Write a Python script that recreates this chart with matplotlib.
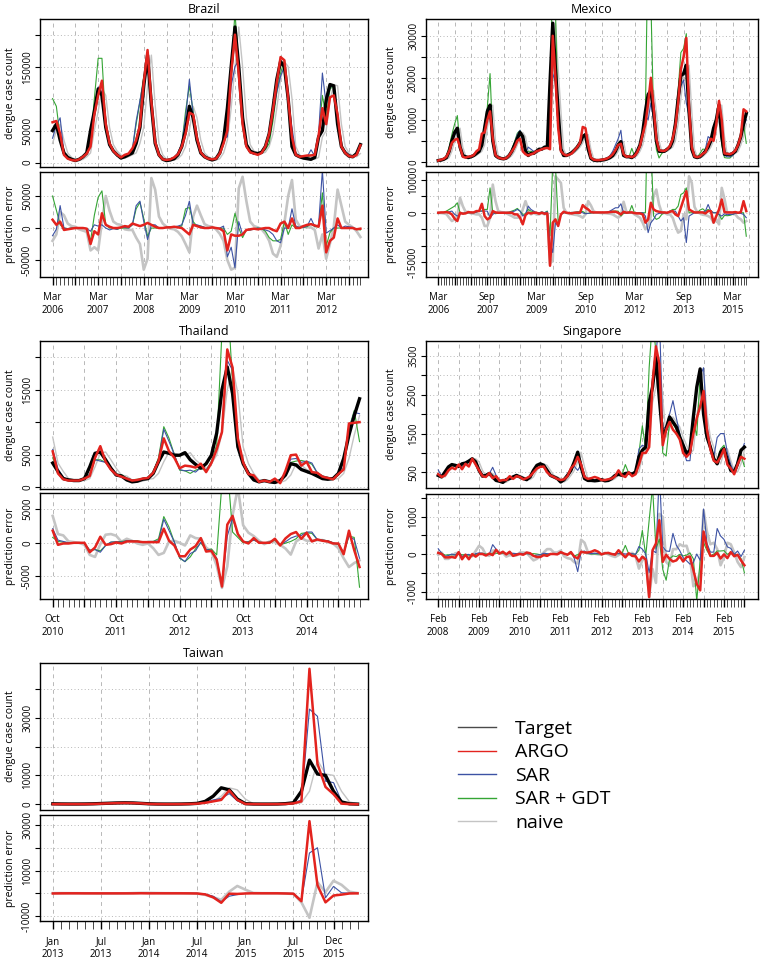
import matplotlib.pyplot as plt
import numpy as np

plt.rcParams['font.family'] = ['Open Sans', 'DejaVu Sans']

W, H = 761, 959

MONTHS = ['Jan', 'Feb', 'Mar', 'Apr', 'May', 'Jun', 'Jul', 'Aug', 'Sep', 'Oct', 'Nov', 'Dec']

# ---------------- Brazil, monthly from Mar 2006
brazil_start = 'Mar 2006'
brazil_target = [50000, 60000, 35000, 15000, 8000, 5000, 3000, 5000, 9000, 15000,
                 50000, 80000, 115000, 105000, 55000, 28000, 18000, 12000, 7000, 9000, 12000, 15000,
                 30000, 55000, 120000, 168000, 90000, 30000, 12000, 5000, 3000, 4000, 6000, 12000,
                 25000, 50000, 88000, 70000, 35000, 15000, 9000, 6000, 4000, 6000, 15000, 35000,
                 85000, 150000, 212000, 150000, 70000, 28000, 18000, 15000, 14000, 16000, 25000, 45000,
                 85000, 130000, 158000, 150000, 100000, 25000, 12000, 9000, 7000, 6000, 5000, 8000,
                 40000, 50000, 98000, 122000, 120000, 60000, 25000, 15000, 10000, 9000, 14000, 28000]
brazil_argo = [63000, 65000, 45000, 12000, 6000, 4000, 3000, 5000, 9000, 14000,
               25000, 75000, 105000, 128000, 60000, 30000, 18000, 12000, 8000, 12000, 14000, 22000,
               35000, 58000, 125000, 176000, 95000, 32000, 12000, 5000, 4000, 5000, 8000, 13000,
               25000, 45000, 78000, 75000, 38000, 16000, 9000, 6000, 5000, 6000, 14000, 30000,
               50000, 140000, 200000, 138000, 60000, 25000, 16000, 14000, 12000, 15000, 25000, 45000,
               82000, 125000, 165000, 160000, 100000, 40000, 12000, 9000, 10000, 11000, 11000, 12000,
               42000, 85000, 60000, 102000, 105000, 75000, 25000, 15000, 10000, 9000, 12000, 27000]
brazil_sar = [38000, 58000, 70000, 15000, 7000, 5000, 3000, 5000, 9000, 14000,
              45000, 85000, 118000, 110000, 55000, 25000, 17000, 10000, 8000, 10000, 12000, 20000,
              65000, 97000, 130000, 150000, 95000, 35000, 12000, 5000, 4000, 6000, 8000, 15000,
              30000, 70000, 130000, 75000, 40000, 18000, 10000, 6000, 5000, 6000, 15000, 38000,
              40000, 120000, 150000, 160000, 60000, 25000, 15000, 13000, 14000, 15000, 22000, 40000,
              75000, 110000, 135000, 150000, 100000, 55000, 15000, 10000, 8000, 9000, 20000, 10000,
              45000, 140000, 90000, 118000, 120000, 65000, 25000, 18000, 12000, 10000, 12000, 26000]
brazil_gdt = [100000, 88000, 40000, 15000, 7000, 5000, 3000, 5000, 9000, 14000,
              30000, 100000, 163000, 163000, 60000, 28000, 18000, 10000, 7000, 9000, 12000, 20000,
              60000, 95000, 135000, 155000, 90000, 30000, 12000, 5000, 4000, 6000, 8000, 14000,
              28000, 80000, 120000, 80000, 38000, 18000, 10000, 6000, 5000, 6000, 14000, 35000,
              75000, 145000, 235000, 150000, 55000, 25000, 15000, 14000, 14000, 15000, 20000, 30000,
              65000, 110000, 140000, 160000, 90000, 30000, 12000, 9000, 8000, 8000, 12000, 10000,
              42000, 105000, 70000, 115000, 120000, 60000, 25000, 15000, 10000, 9000, 12000, 25000]
brazil_naive_first = 30000
brazil_xlabels = ['Mar 2006', 'Mar 2007', 'Mar 2008', 'Mar 2009', 'Mar 2010', 'Mar 2011', 'Mar 2012']
brazil_top_ticks = [0, 50000, 100000, 150000, 200000]
brazil_top_labels = ['0', '50000', '', '150000', '']
brazil_err_ticks = [-50000, 0, 50000]
brazil_err_labels = ['-50000', '0', '50000']

# ---------------- Mexico, monthly from Mar 2006
mexico_start = 'Mar 2006'
mexico_target = [300, 400, 600, 1000, 2500, 5000, 7000, 8000, 3500, 1500,
                 1200, 1000, 1200, 1500, 2000, 2500, 4000, 8000, 12000, 13500, 5000, 1500,
                 1000, 800, 700, 900, 1500, 2500, 4000, 5500, 7000, 6000, 2500, 1500,
                 2000, 2000, 2500, 3000, 3000, 3500, 3500, 19000, 33000, 22000, 12000, 3000,
                 1500, 1500, 1800, 2200, 2800, 3500, 4500, 6000, 6500, 3000, 800, 400,
                 300, 300, 400, 500, 700, 1000, 1500, 2500, 4000, 4800, 1500, 1200,
                 1200, 1000, 1500, 2500, 4000, 7000, 12000, 16000, 17000, 12000, 5000, 2500,
                 2500, 2500, 3000, 3500, 5000, 9000, 15000, 20500, 21000, 23000, 12000, 3000,
                 1200, 1000, 1200, 1800, 2500, 3500, 5000, 8000, 10000, 13500, 6000, 1800,
                 1800, 1700, 2000, 2500, 4000, 6000, 9000, 11500]
mexico_argo = [300, 500, 700, 1200, 2500, 4500, 5200, 5500, 3500, 1200,
               1000, 1200, 1300, 1600, 2500, 3000, 6700, 7000, 10000, 12000, 5500, 1600,
               1000, 800, 700, 900, 1500, 2500, 3500, 5000, 5500, 2500, 1800, 1500,
               1800, 2000, 2500, 2700, 3000, 3200, 3300, 3000, 30000, 20000, 8000, 2500,
               1800, 1500, 1700, 2000, 2800, 3500, 4500, 8300, 8000, 4000, 1000, 500,
               400, 400, 500, 600, 800, 1200, 1800, 2800, 4000, 4300, 1800, 1200,
               1300, 1100, 1400, 2300, 3800, 6500, 9000, 14000, 20000, 13000, 5500, 2800,
               2600, 2600, 3000, 3800, 5500, 8500, 14000, 22000, 25000, 29500, 13000, 3500,
               1300, 1100, 1300, 1900, 2300, 4000, 5500, 5000, 9000, 14500, 10000, 2000,
               1900, 1800, 2100, 2700, 4000, 6200, 12500, 12000]
mexico_sar = [300, 450, 650, 1100, 2800, 5500, 6500, 7000, 3000, 1400,
              1100, 1000, 1200, 1500, 2200, 3000, 4500, 8500, 12500, 12000, 4500, 1500,
              1000, 900, 800, 1000, 1600, 2800, 4500, 6500, 7500, 5000, 2000, 3500,
              3000, 2500, 2500, 3000, 3200, 3500, 3800, 10000, 21000, 19000, 8000, 2500,
              1500, 1500, 1800, 2300, 2900, 3700, 4600, 6000, 6200, 2800, 800, 400,
              350, 350, 450, 550, 900, 1500, 2500, 4000, 5500, 7500, 1500, 1100,
              1200, 1000, 1500, 2500, 4000, 7000, 11000, 10000, 14000, 10000, 4500, 2300,
              2400, 2500, 3000, 4000, 5500, 9500, 14000, 18000, 19500, 14000, 11000, 2500,
              1200, 1000, 1300, 1900, 3000, 6000, 5500, 8000, 10000, 13000, 5000, 1500,
              1200, 1200, 1500, 2300, 3800, 5800, 8500, 10000]
mexico_gdt = [300, 450, 700, 1500, 3500, 6500, 9000, 11000, 3500, 1300,
              1100, 1000, 1200, 1500, 2200, 3000, 4500, 9000, 13000, 21000, 5000, 1200,
              900, 800, 700, 1000, 1700, 3000, 4800, 6800, 7500, 5500, 2200, 2500,
              2500, 2300, 2500, 3000, 3200, 3500, 4000, 12000, 48000, 36000, 9000, 2500,
              1500, 1500, 1800, 2300, 2900, 3800, 4800, 6400, 6300, 2800, 700, 400,
              350, 350, 450, 550, 900, 1400, 2000, 3000, 4500, 3800, 1300, 1200,
              1200, 3200, 1400, 2400, 4000, 7000, 12000, 55000, 38000, 11000, 3000, 900,
              2000, 2400, 3000, 4000, 6000, 10000, 17000, 26000, 27000, 30500, 12000, 3000,
              1200, 1000, 2000, 3000, 3000, 4500, 5500, 8000, 10000, 13000, 4000, 1000,
              900, 900, 1500, 2500, 4000, 6000, 9000, 4400]
mexico_naive_first = 250
mexico_xlabels = ['Mar 2006', 'Sep 2007', 'Mar 2009', 'Sep 2010', 'Mar 2012', 'Sep 2013', 'Mar 2015']
mexico_top_ticks = [0, 5000, 10000, 15000, 20000, 25000, 30000]
mexico_top_labels = ['0', '', '10000', '', '20000', '', '30000']
mexico_err_ticks = [-15000, -10000, -5000, 0, 5000, 10000]
mexico_err_labels = ['-15000', '', '', '0', '', '10000']

# ---------------- Thailand, monthly from Oct 2010
thailand_start = 'Oct 2010'
thailand_target = [3700, 2400, 1300, 1100, 1000, 1000, 1300, 3100, 5200, 5400, 4200, 2900,
                   1850, 1700, 1100, 800, 900, 1200, 1300, 2100, 3900, 5400, 5200, 4900,
                   4900, 5300, 4200, 3500, 2900, 3600, 4900, 8300, 15000, 18500, 14400, 6200,
                   3600, 2100, 1100, 800, 1000, 800, 700, 1000, 1850, 3600, 3400, 2700,
                   2400, 2100, 1700, 1300, 1200, 1300, 2100, 4400, 8000, 11000, 13600]
thailand_argo = [5500, 2100, 1200, 1000, 1000, 1000, 1300, 1700, 4500, 6300, 3900, 2700,
                 1900, 1600, 1300, 1000, 1100, 1300, 1400, 2200, 4000, 7500, 5500, 4500,
                 2900, 3300, 3200, 3000, 3600, 2300, 3700, 5800, 8500, 21200, 18400, 7500,
                 3800, 2000, 1800, 800, 1000, 800, 1300, 600, 2500, 4900, 5000, 3300,
                 3900, 2300, 2200, 1600, 1400, 1200, 2000, 2700, 9800, 9900, 10000]
thailand_sar = [5800, 2800, 1500, 1100, 1000, 1000, 1200, 2000, 4200, 4000, 3800, 3000,
                2000, 1800, 1400, 1100, 1100, 1300, 1500, 2300, 4200, 8900, 7000, 5000,
                2700, 2500, 2600, 2300, 3000, 2600, 3800, 6000, 8500, 19500, 18000, 7500,
                3800, 2200, 1500, 900, 1000, 900, 1200, 700, 2000, 4300, 4400, 3800,
                4000, 3700, 2200, 1700, 1500, 1300, 1900, 3000, 9000, 11500, 11300]
thailand_gdt = [4500, 2600, 1400, 1100, 1000, 1000, 1200, 2000, 4200, 4200, 3800, 3000,
                2000, 1900, 1400, 1100, 1200, 1300, 1500, 2300, 4500, 9300, 7500, 5000,
                2600, 2500, 2100, 2600, 2900, 2500, 4000, 6500, 24000, 30000, 16000, 7000,
                3600, 2300, 1500, 900, 1000, 900, 1100, 700, 1800, 3800, 4000, 4100,
                3900, 3500, 2200, 1700, 1500, 1300, 1800, 2800, 9000, 11800, 7000]
thailand_naive_first = 7700
thailand_xlabels = ['Oct 2010', 'Oct 2011', 'Oct 2012', 'Oct 2013', 'Oct 2014']
thailand_top_ticks = [0, 5000, 10000, 15000, 20000]
thailand_top_labels = ['0', '5000', '', '15000', '']
thailand_err_ticks = [-5000, 0, 5000]
thailand_err_labels = ['-5000', '0', '5000']

# ---------------- Singapore, monthly from Feb 2008
singapore_start = 'Feb 2008'
singapore_target = [420, 380, 510, 640, 700, 680, 650, 720, 740, 790, 850, 770,
                    550, 400, 420, 470, 380, 290, 270, 240, 310, 340, 380, 420,
                    380, 340, 310, 380, 550, 680, 720, 680, 550, 420, 380, 340,
                    250, 310, 420, 550, 770, 1020, 640, 340, 290, 290, 280, 290,
                    310, 280, 290, 340, 420, 450, 420, 470, 480, 450, 510, 900,
                    1070, 1150, 2300, 2700, 3470, 2400, 1410, 1620, 1930, 1800, 1670, 1410,
                    1200, 980, 1070, 1930, 2700, 3170, 2000, 1410, 1150, 850, 720, 1020,
                    1110, 810, 550, 510, 720, 1070, 1150]
singapore_argo = [450, 380, 420, 550, 620, 580, 700, 580, 720, 650, 850, 700,
                  550, 400, 380, 480, 350, 400, 280, 300, 300, 400, 330, 400,
                  380, 320, 350, 400, 500, 600, 640, 650, 500, 420, 380, 330,
                  300, 320, 400, 600, 700, 900, 700, 380, 330, 350, 380, 350,
                  300, 300, 320, 340, 400, 550, 420, 380, 500, 400, 450, 700,
                  1000, 1000, 1150, 2800, 3750, 3300, 1200, 1600, 1800, 1600, 1500, 1350,
                  1000, 900, 1000, 1500, 1900, 2200, 2600, 1600, 1100, 800, 750, 900,
                  1100, 700, 600, 450, 700, 900, 850]
singapore_sar = [560, 400, 450, 600, 700, 650, 700, 650, 720, 780, 800, 780,
                 580, 420, 400, 460, 630, 420, 300, 280, 320, 360, 400, 430,
                 400, 350, 320, 380, 500, 650, 700, 700, 560, 420, 380, 350,
                 280, 320, 400, 620, 650, 550, 700, 420, 300, 300, 300, 300,
                 320, 300, 300, 350, 430, 460, 430, 470, 490, 460, 500, 1100,
                 1200, 1150, 1800, 2800, 3500, 4600, 1600, 1700, 2000, 2350, 1900, 1500,
                 1100, 800, 800, 1700, 2700, 3000, 3200, 1700, 1200, 900, 1400, 1500,
                 1500, 1000, 700, 500, 800, 1000, 1250]
singapore_gdt = [450, 400, 480, 620, 680, 660, 650, 700, 720, 760, 800, 760,
                 560, 420, 420, 460, 400, 310, 280, 260, 320, 350, 390, 420,
                 390, 350, 320, 380, 560, 680, 700, 660, 540, 420, 380, 350,
                 280, 320, 410, 560, 720, 1000, 680, 380, 300, 290, 280, 290,
                 310, 290, 300, 340, 430, 460, 430, 700, 480, 450, 500, 1000,
                 1700, 1100, 3200, 4500, 3600, 2800, 1000, 920, 1800, 1750, 1600, 1400,
                 1150, 950, 1100, 1800, 1450, 3000, 2300, 1500, 1100, 850, 800, 1100,
                 1200, 800, 600, 500, 700, 950, 650]
singapore_naive_first = 400
singapore_xlabels = ['Feb 2008', 'Feb 2009', 'Feb 2010', 'Feb 2011', 'Feb 2012', 'Feb 2013',
                     'Feb 2014', 'Feb 2015']
singapore_top_ticks = [500, 1000, 1500, 2000, 2500, 3000, 3500]
singapore_top_labels = ['500', '', '1500', '', '2500', '', '3500']
singapore_err_ticks = [-1000, -500, 0, 500, 1000, 1500]
singapore_err_labels = ['-1000', '', '0', '', '1000', '']

# ---------------- Taiwan, monthly from Jan 2013 (no SAR + GDT series)
taiwan_start = 'Jan 2013'
taiwan_target = [150, 100, 80, 80, 100, 150, 250, 350, 450, 500, 450, 300,
                 150, 80, 60, 60, 80, 150, 300, 1000, 2800, 5700, 5000, 1800,
                 200, 80, 60, 60, 80, 200, 500, 4500, 15300, 10500, 10000, 4500,
                 800, 150, 50]
taiwan_argo = [50, 50, 50, 50, 50, 100, 200, 300, 400, 450, 400, 300,
               100, 50, 30, 30, 50, 100, 200, 500, 1000, 1500, 4800, 1500,
               100, 50, 30, 30, 50, 100, 300, 1000, 47000, 14000, 6000, 3500,
               200, 50, 0]
taiwan_sar = [100, 80, 60, 60, 80, 120, 200, 300, 400, 450, 420, 300,
              120, 60, 50, 50, 60, 120, 250, 600, 1500, 2000, 3700, 1200,
              150, 60, 50, 50, 60, 150, 400, 1500, 33000, 30500, 8000, 7500,
              1000, 200, 50]
taiwan_naive_first = 200
taiwan_xlabels = ['Jan 2013', 'Jul 2013', 'Jan 2014', 'Jul 2014', 'Jan 2015', 'Jul 2015', 'Dec 2015']
taiwan_top_ticks = [0, 10000, 20000, 30000, 40000]
taiwan_top_labels = ['0', '10000', '', '30000', '']
taiwan_err_ticks = [-10000, 0, 10000, 20000, 30000]
taiwan_err_labels = ['-10000', '', '10000', '', '30000']

legend_names = ['Target', 'ARGO', 'SAR', 'SAR + GDT', 'naive']

RED = '#e3231e'
BLUE = '#3c52a4'
GREEN = '#34a534'
GRAY = '#c4c4c4'
GRID = '#b8b8b8'


def month_num(label):
    m, y = label.split()
    return int(y) * 12 + MONTHS.index(m)


def rect(x0, y0, x1, y1):
    return [x0 / W, 1 - y1 / H, (x1 - x0) / W, (y1 - y0) / H]


# box: left, top-panel top, right, top-panel bottom, error top, error bottom (pixels)
panels = [
    dict(name='Brazil', start=brazil_start, target=brazil_target, argo=brazil_argo,
         sar=brazil_sar, gdt=brazil_gdt, naive0=brazil_naive_first, xlabels=brazil_xlabels,
         grid_every=6, box=(40, 19, 368, 167, 172, 277), pad=(3.3, 2.0),
         ytop=(-7000, 224500), ttop=brazil_top_ticks, ltop=brazil_top_labels,
         yerr=(-76500, 87500), terr=brazil_err_ticks, lerr=brazil_err_labels, ylab_x=-0.09),
    dict(name='Mexico', start=mexico_start, target=mexico_target, argo=mexico_argo,
         sar=mexico_sar, gdt=mexico_gdt, naive0=mexico_naive_first, xlabels=mexico_xlabels,
         grid_every=6, box=(426, 19, 758, 166, 172, 277), pad=(4.5, 4.3),
         ytop=(-1000, 34000), ttop=mexico_top_ticks, ltop=mexico_top_labels,
         yerr=(-19400, 12300), terr=mexico_err_ticks, lerr=mexico_err_labels, ylab_x=-0.103),
    dict(name='Thailand', start=thailand_start, target=thailand_target, argo=thailand_argo,
         sar=thailand_sar, gdt=thailand_gdt, naive0=thailand_naive_first, xlabels=thailand_xlabels,
         grid_every=6, box=(40, 341, 368, 489, 493, 599), pad=(2.4, 1.6),
         ytop=(-300, 22500), ttop=thailand_top_ticks, ltop=thailand_top_labels,
         yerr=(-8350, 7400), terr=thailand_err_ticks, lerr=thailand_err_labels, ylab_x=-0.09),
    dict(name='Singapore', start=singapore_start, target=singapore_target, argo=singapore_argo,
         sar=singapore_sar, gdt=singapore_gdt, naive0=singapore_naive_first, xlabels=singapore_xlabels,
         grid_every=6, box=(426, 341, 758, 488, 494, 599), pad=(3.6, 4.0),
         ytop=(95, 3890), ttop=singapore_top_ticks, ltop=singapore_top_labels,
         yerr=(-1200, 1600), terr=singapore_err_ticks, lerr=singapore_err_labels, ylab_x=-0.103),
    dict(name='Taiwan', start=taiwan_start, target=taiwan_target, argo=taiwan_argo,
         sar=taiwan_sar, gdt=None, naive0=taiwan_naive_first, xlabels=taiwan_xlabels,
         grid_every=None, box=(40, 663, 368, 810, 815, 921), pad=(1.6, 1.3),
         ytop=(-2000, 49000), ttop=taiwan_top_ticks, ltop=taiwan_top_labels,
         yerr=(-12200, 34400), terr=taiwan_err_ticks, lerr=taiwan_err_labels, ylab_x=-0.09),
]

fig = plt.figure(figsize=(W / 100, H / 100), dpi=100)

for p in panels:
    x0, y0, x1, y1, y2, y3 = p['box']
    ax = fig.add_axes(rect(x0, y0, x1, y1))
    axe = fig.add_axes(rect(x0, y2, x1, y3))

    s = month_num(p['start'])
    target = np.array(p['target'], dtype=float)
    n = len(target)
    x = s + np.arange(n)
    naive = np.concatenate([[p['naive0']], target[:-1]])
    argo = np.array(p['argo'], dtype=float)
    sar = np.array(p['sar'], dtype=float)

    label_pos = [month_num(l) for l in p['xlabels']]
    if p['grid_every']:
        major = list(range(s, s + n, p['grid_every']))
        vgrid = list(range(s, int(s + n + p['pad'][1]), p['grid_every']))
    else:
        major = label_pos
        vgrid = label_pos
    xlim = (s - p['pad'][0], s + n - 1 + p['pad'][1])

    for a, yl, yt in [(ax, p['ytop'], p['ttop']), (axe, p['yerr'], p['terr'])]:
        a.set_xlim(*xlim)
        a.set_ylim(*yl)
        for v in vgrid:
            a.axvline(v, color=GRID, lw=0.7, ls=(0, (4, 4)), zorder=0)
        for t in yt:
            a.axhline(t, color=GRID, lw=0.7, ls=(0, (1, 2.5)), zorder=0)
        for sp in a.spines.values():
            sp.set_linewidth(1.0)
        a.tick_params(axis='y', direction='out', length=3.5, width=0.8, pad=1.5,
                      labelsize=7, labelrotation=90)

    # top panel: predictions and target
    ax.plot(x, naive, color=GRAY, lw=1.0)
    if p['gdt'] is not None:
        ax.plot(x, p['gdt'], color=GREEN, lw=0.8)
    ax.plot(x, sar, color=BLUE, lw=0.8)
    ax.plot(x, target, color='black', lw=2.4)
    ax.plot(x, argo, color=RED, lw=1.8)

    # bottom panel: prediction errors
    axe.plot(x, naive - target, color=GRAY, lw=1.9)
    if p['gdt'] is not None:
        axe.plot(x, np.array(p['gdt'], dtype=float) - target, color=GREEN, lw=0.8)
    axe.plot(x, sar - target, color=BLUE, lw=0.8)
    axe.plot(x, argo - target, color=RED, lw=1.8)

    ax.set_yticks(p['ttop'])
    ax.set_yticklabels(p['ltop'])
    axe.set_yticks(p['terr'])
    axe.set_yticklabels(p['lerr'])
    for a in (ax, axe):
        for lbl in a.get_yticklabels():
            lbl.set_va('center')

    ax.tick_params(axis='x', bottom=False, labelbottom=False)
    axe.set_xticks(major)
    axe.set_xticklabels([p['xlabels'][label_pos.index(m)].replace(' ', '\n') if m in label_pos else ''
                         for m in major], linespacing=1.25)
    axe.set_xticks(x, minor=True)
    axe.tick_params(axis='x', which='major', direction='out', length=6, width=1.0, pad=5, labelsize=7)
    axe.tick_params(axis='x', which='minor', direction='out', length=6, width=0.5)

    ax.set_title(p['name'], fontsize=9, pad=4)
    ax.set_ylabel('dengue case count', fontsize=7.5, va='center')
    axe.set_ylabel('prediction error', fontsize=7.5, va='center')
    ax.yaxis.set_label_coords(p['ylab_x'], 0.5)
    axe.yaxis.set_label_coords(p['ylab_x'], 0.5)

handles = [plt.Line2D([], [], color=c, lw=1.0) for c in ['#4a4a4a', RED, BLUE, GREEN, GRAY]]
fig.legend(handles, legend_names, loc='upper left', bbox_to_anchor=(458 / W, 1 - 720 / H),
           frameon=False, fontsize=14, handlelength=1.95, handletextpad=1.0,
           labelspacing=0.28, borderpad=0, borderaxespad=0)

fig.savefig('out.png', dpi=100)
